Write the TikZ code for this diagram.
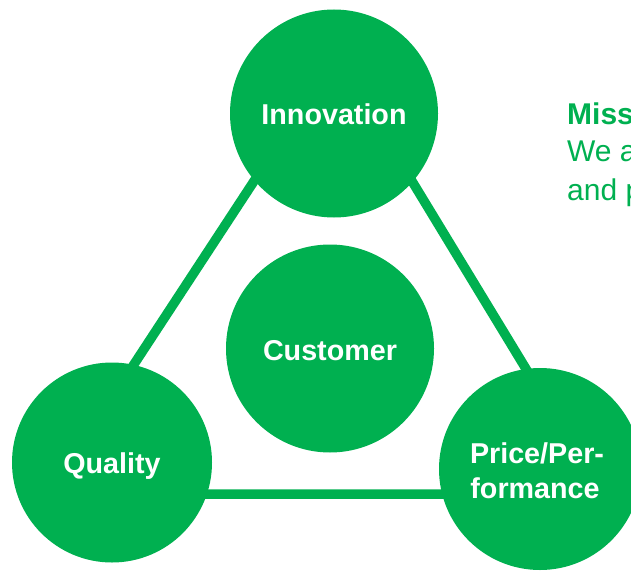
\documentclass[tikz,border=0pt]{standalone}
\usepackage{fontspec}
\setmainfont{Liberation Sans}
\definecolor{sgreen}{RGB}{0,176,80}
\begin{document}
\begin{tikzpicture}[x=1pt,y=-1pt,
  disc/.style={circle, fill=sgreen, draw=none, inner sep=0pt},
  lbl/.style={text=white, font=\fontsize{28.7}{34}\selectfont\bfseries, inner sep=0pt, anchor=base},
  mis/.style={text=sgreen, font=\fontsize{30}{36}\selectfont, inner sep=0pt, anchor=base west},
  edge/.style={draw=sgreen, line width=9.5pt, line join=round}]
\useasboundingbox (0,0) rectangle (631,572);
% triangle corners (hidden behind the discs)
\coordinate (tA) at (336,56);
\coordinate (tB) at (49,494);
\coordinate (tC) at (602,494);
\draw[edge] (tA) -- (tB) -- (tC) -- cycle;
% discs
\node[disc, minimum size=208pt] (inn) at (334,113.5) {};
\node[disc, minimum size=208pt] (cus) at (330,348.5) {};
\node[disc, minimum size=200pt] (qua) at (112,462.5) {};
\node[disc, minimum size=202pt] (pri) at (540,469) {};
% labels
\node[lbl] (tInn) at (334,125) {Innovation};
\node[lbl] (tCus) at (330,360) {Customer};
\node[lbl] (tQua) at (112,473) {Quality};
\node[lbl] (tPri1) at (537,463) {Price/Per-};
\node[lbl] (tPri2) at (535,498) {formance};
% mission text (cut by the page edge, as in the reference)
\node[mis, font=\fontsize{30}{36}\selectfont\bfseries] (m1) at (567,125) {Miss};
\node[mis] (m2) at (567,162) {We a};
\node[mis] (m3) at (567,200) {and p};
\end{tikzpicture}
\end{document}
